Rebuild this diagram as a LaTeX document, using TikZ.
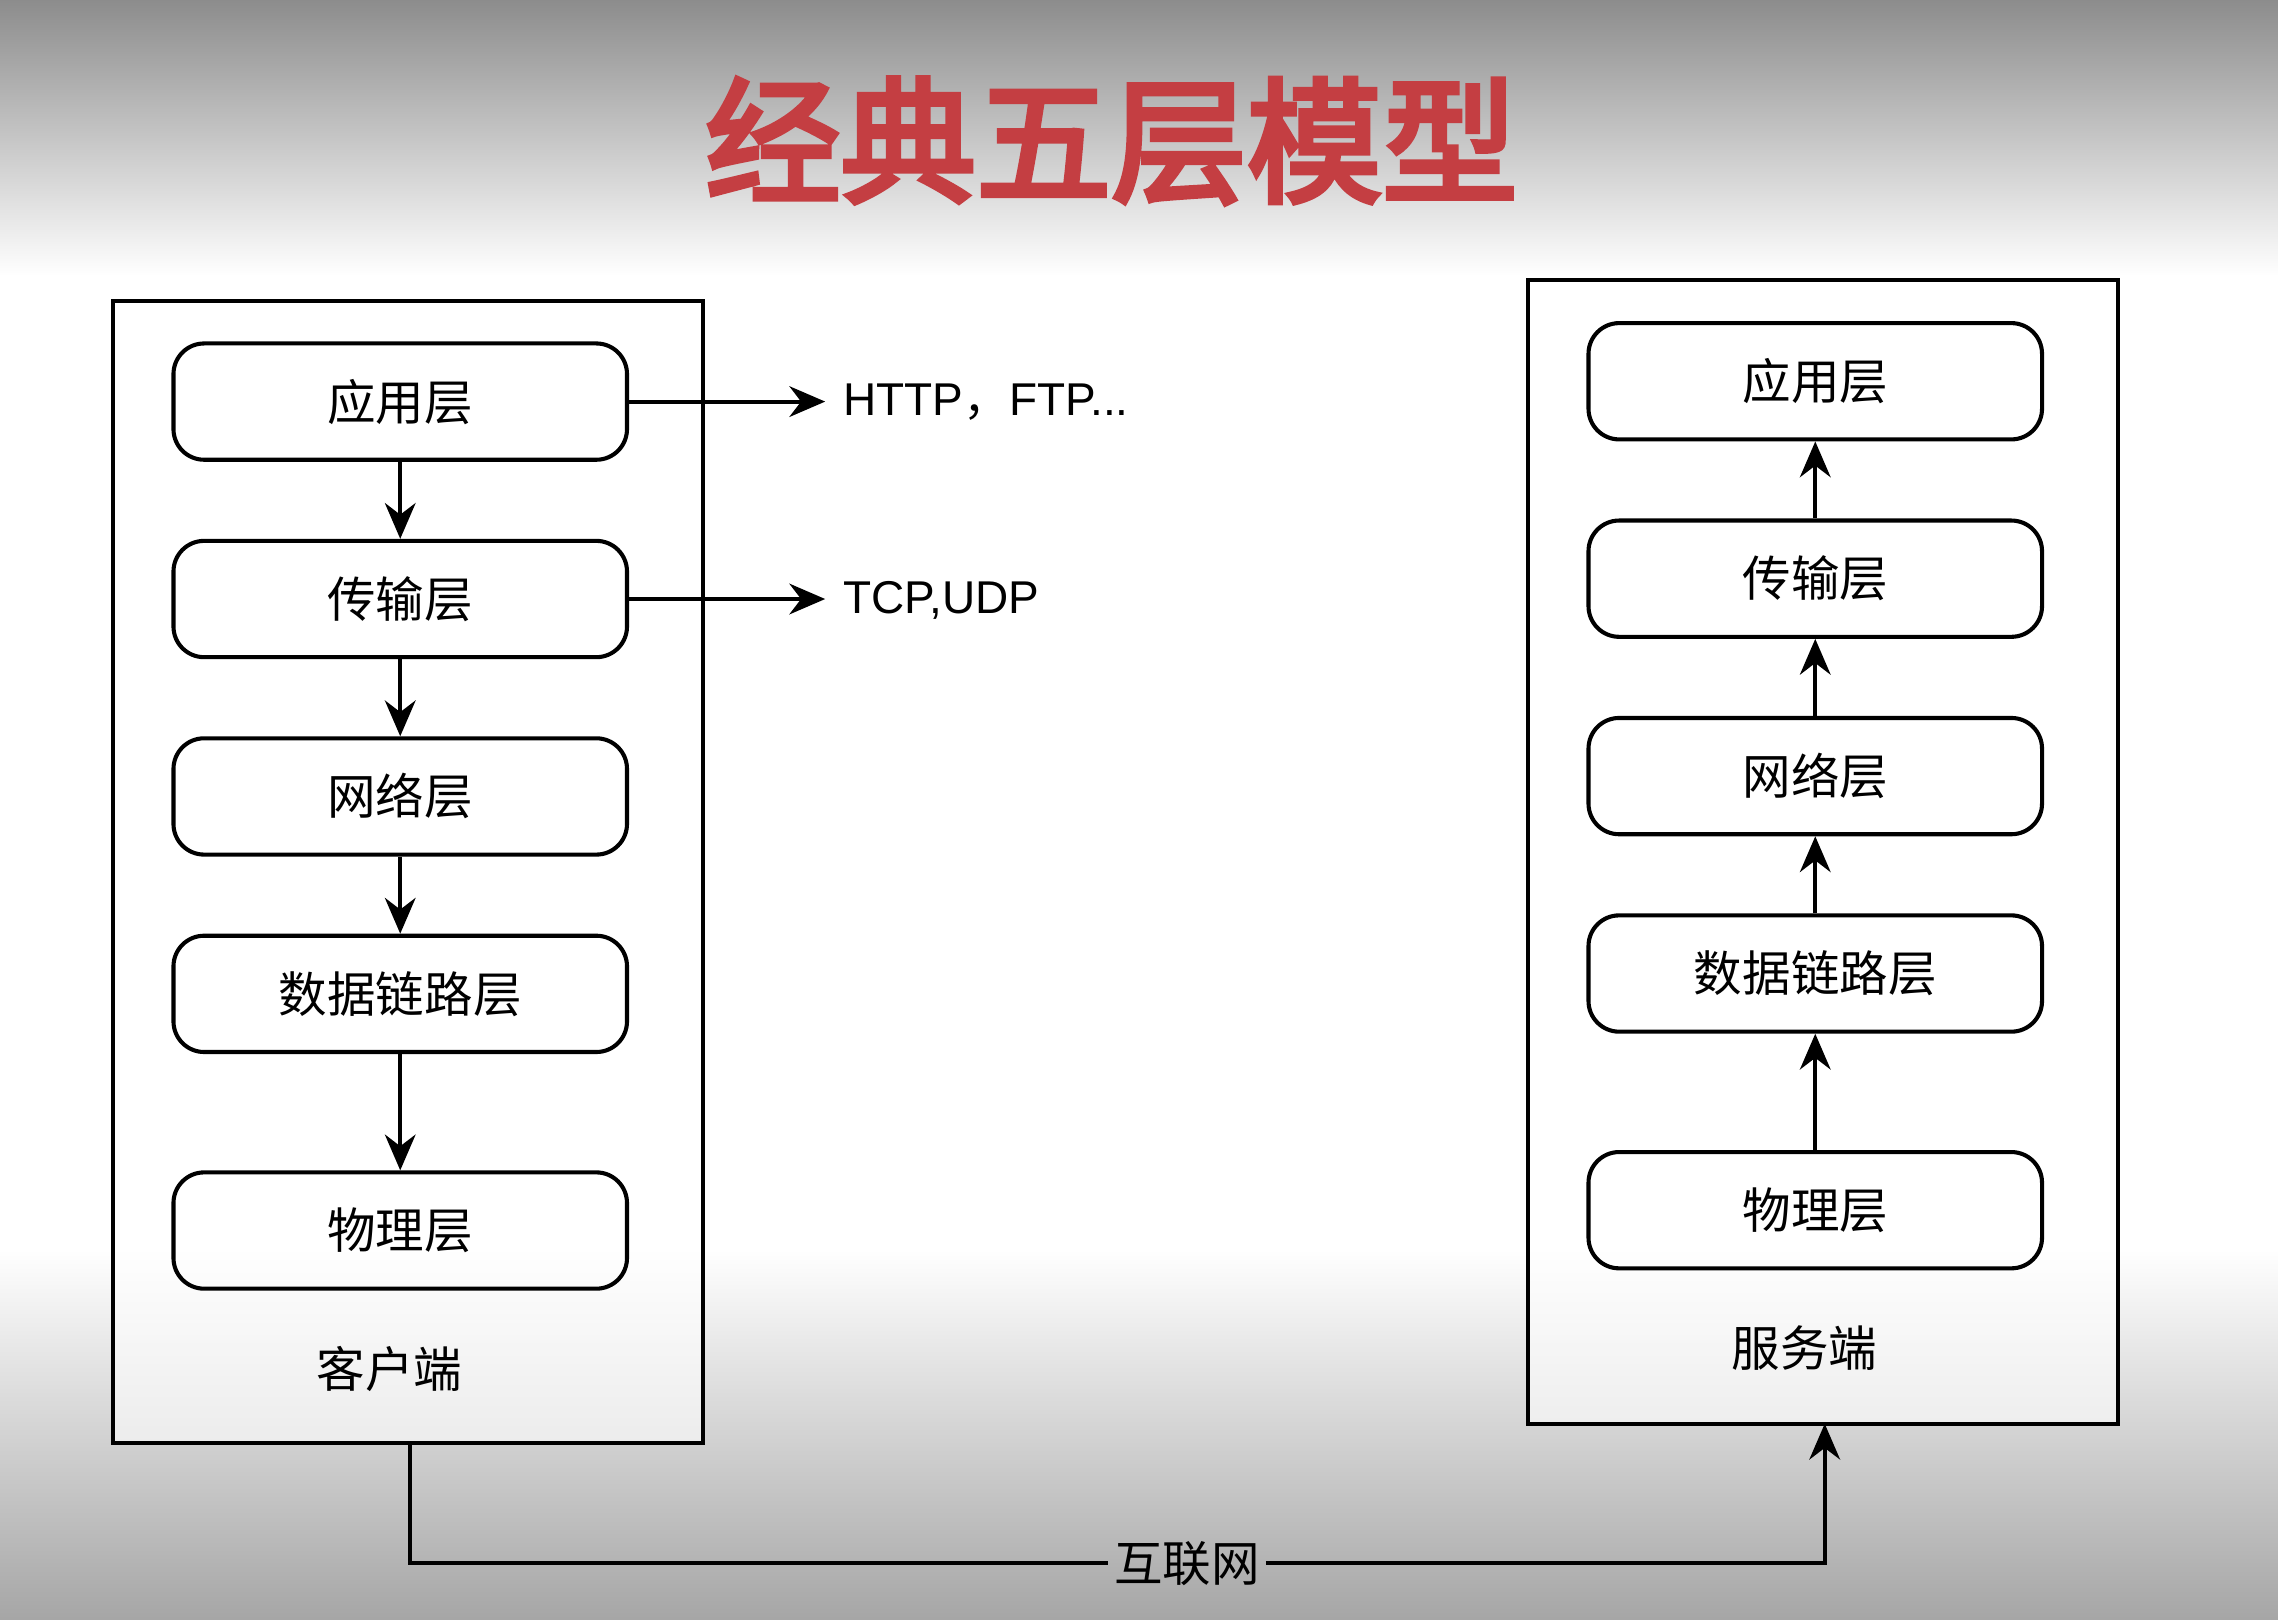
\documentclass[tikz,border=0pt]{standalone}
\usepackage{fontspec}
\setmainfont{Liberation Sans}
\newfontfamily\cjk{Noto Sans CJK SC}
\newfontfamily\cjkbold[FakeBold=4]{Noto Sans CJK SC}
\usetikzlibrary{positioning,arrows.meta}
\definecolor{titlered}{RGB}{196,62,66}
\tikzset{layer/.style={draw,thick,rounded corners=6pt,minimum width=3.12cm,minimum height=0.8cm,
  font=\cjk\fontsize{9.5}{11}\selectfont},
 standard edge/.style={thick,-{Stealth[length=7pt,width=6pt]}},
 frame/.style={draw,thick}}
\begin{document}
\begin{tikzpicture}[x=0.01cm,y=-0.01cm]
\useasboundingbox (0,0) rectangle (1568,1115);
% background
\fill[white] (0,0) rectangle (1568,1115);
\shade[top color=black!45,bottom color=white] (0,0) rectangle (1568,190);
\shade[top color=white,bottom color=black!35] (0,860) rectangle (1568,1115);
\node[font=\cjkbold\fontsize{26.5}{32}\selectfont,text=titlered] (title) at (765,97) {经典五层模型};

% client
\draw[frame,fill=white,fill opacity=0.6] (78,207) rectangle (484,993);
\node[layer,anchor=north west] (CA) at (118,235) {应用层};
\node[layer,below=0.53cm of CA] (CT) {传输层};
\node[layer,below=0.53cm of CT] (CN) {网络层};
\node[layer,below=0.53cm of CN] (CD) {数据链路层};
\node[layer,below=0.8cm of CD] (CP) {物理层};
\node[font=\cjk\fontsize{9.5}{11}\selectfont] (CL) at (268,942) {客户端};

% server
\draw[frame,fill=white,fill opacity=0.6] (1052,193) rectangle (1458,980);
\node[layer,anchor=north west] (SA) at (1092,221) {应用层};
\node[layer,below=0.53cm of SA] (ST) {传输层};
\node[layer,below=0.53cm of ST] (SN) {网络层};
\node[layer,below=0.53cm of SN] (SD) {数据链路层};
\node[layer,below=0.8cm of SD] (SP) {物理层};
\node[font=\cjk\fontsize{9.5}{11}\selectfont] (SL) at (1242,928) {服务端};

% protocols
\node[anchor=west,font=\fontsize{9}{11}\selectfont] (HT) at (568,277) {HTTP{\cjk，}FTP...};
\node[anchor=west,font=\fontsize{9}{11}\selectfont] (TU) at (568,413) {TCP,UDP};
\coordinate (net) at (282,993);
\coordinate (srv) at (1256,980);
\node[inner sep=1pt,font=\cjk\fontsize{9.5}{11}\selectfont] (NET) at (817,1076) {互联网};

\draw (CA) edge[standard edge] (CT)
(CT) edge[standard edge] (CN)
(CN) edge[standard edge] (CD)
(CD) edge[standard edge] (CP)
(SP) edge[standard edge] (SD)
(SD) edge[standard edge] (SN)
(SN) edge[standard edge] (ST)
(ST) edge[standard edge] (SA)
(CA.east) edge[standard edge] (CA.east -| HT.west)
(CT.east) edge[standard edge] (CT.east -| TU.west);
\draw[thick] (net) |- (NET.west);
\draw[standard edge] (NET.east) -| (srv);
\end{tikzpicture}
\end{document}
